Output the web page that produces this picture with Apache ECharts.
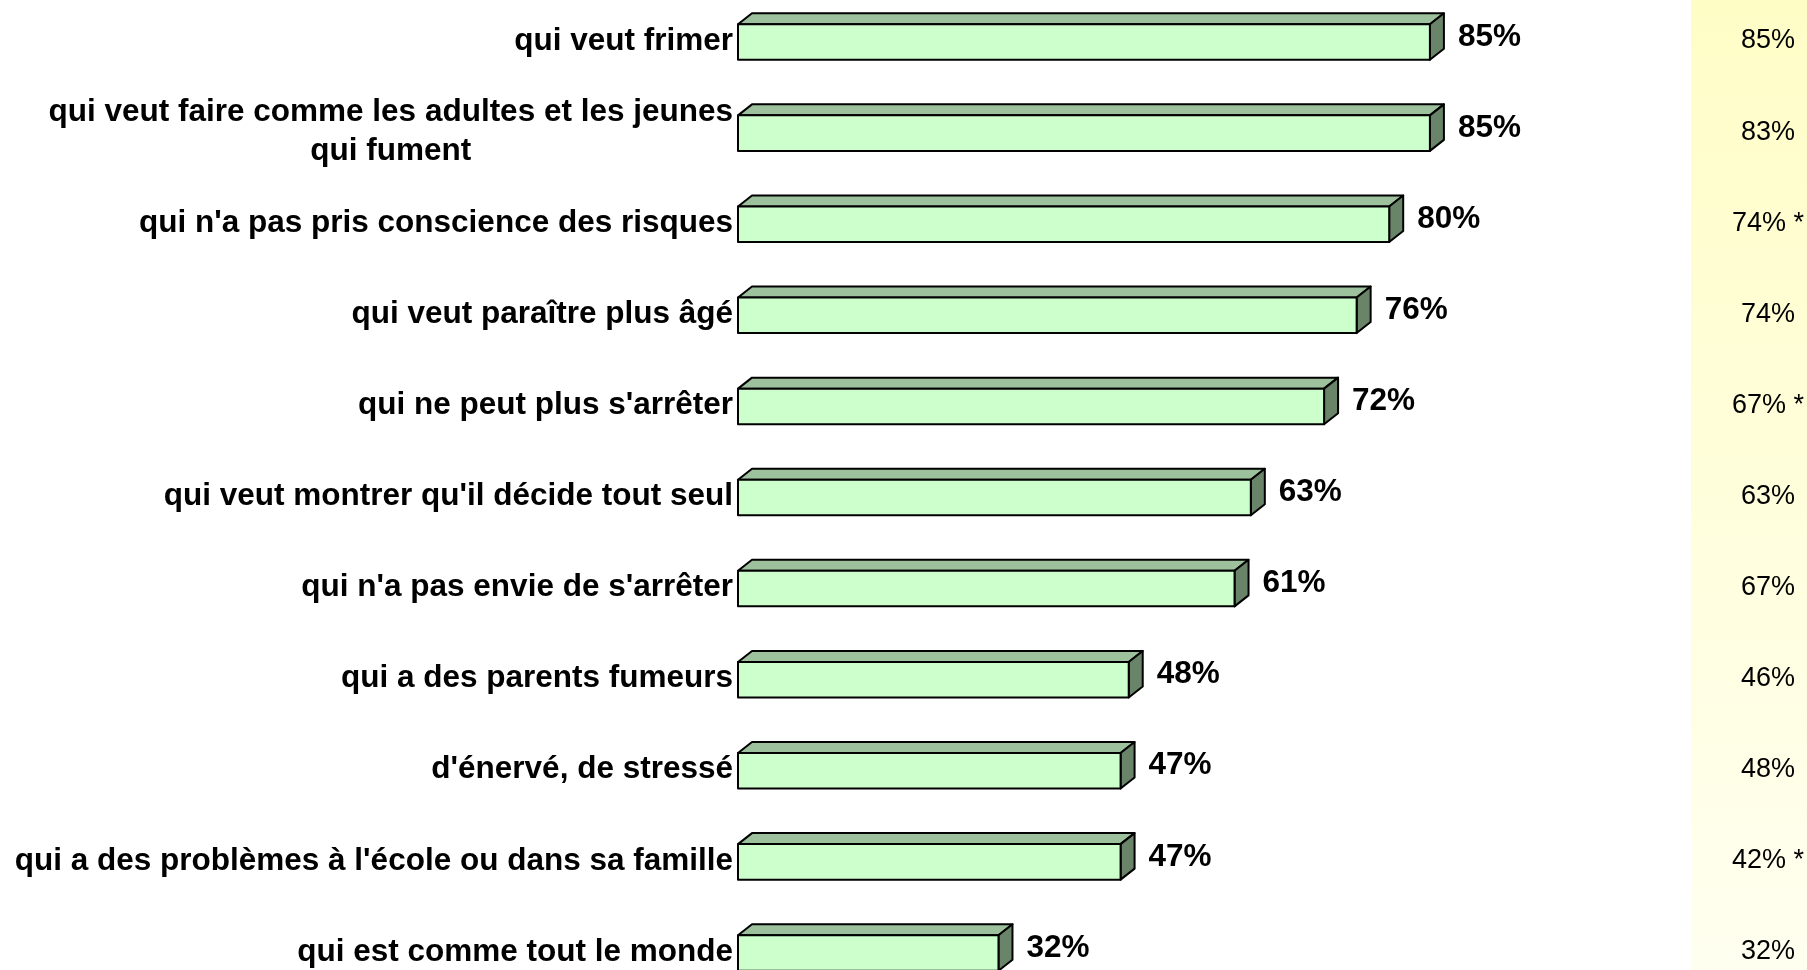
<!DOCTYPE html>
<html>
<head>
<meta charset="utf-8">
<title>Raisons de fumer</title>
<script src="https://cdn.jsdelivr.net/npm/echarts@6/dist/echarts.min.js"></script>
<style>
  html, body { margin: 0; padding: 0; background: #fff; }
  #chart { width: 1807px; height: 970px; }
</style>
</head>
<body>
<div id="chart"></div>
<script>
// catégories (de haut en bas)
const categories = [
    "qui veut frimer",
    "qui veut faire comme les adultes et les jeunes\nqui fument",
    "qui n'a pas pris conscience des risques",
    "qui veut paraître plus âgé",
    "qui ne peut plus s'arrêter",
    "qui veut montrer qu'il décide tout seul",
    "qui n'a pas envie de s'arrêter",
    "qui a des parents fumeurs",
    "d'énervé, de stressé",
    "qui a des problèmes à l'école ou dans sa famille",
    "qui est comme tout le monde"
];
// valeurs des barres (%)
const values = [85, 85, 80, 76, 72, 63, 61, 48, 47, 47, 32];
// colonne de comparaison (%), * = écart significatif
const compareValues = [85, 83, 74, 74, 67, 63, 67, 46, 48, 42, 32];
const significant = [false, false, true, false, true, false, false, false, false, true, false];

const compareLabels = compareValues.map((v, i) => v + '%' + (significant[i] ? ' *' : ''));

const FONT = 'Liberation Sans, Arial, sans-serif';

function renderBar3d(params, api) {
    const v = api.value(0);
    const cat = api.value(1);
    const base = api.coord([0, cat]);
    const end = api.coord([v, cat]);
    const band = api.size([0, 1])[1];
    const h = band * 0.39;
    const dx = 14, dy = 11;
    const x0 = base[0], x1 = end[0];
    const yt = base[1] - h / 2 + 1, yb = base[1] + h / 2 + 1;
    const line = { stroke: '#000', lineWidth: 2, lineJoin: 'round' };
    return {
        type: 'group',
        children: [
            {
                type: 'polygon',
                shape: { points: [[x0, yt], [x0 + dx, yt - dy], [x1 + dx, yt - dy], [x1, yt]] },
                style: Object.assign({ fill: '#9DC19D' }, line)
            },
            {
                type: 'polygon',
                shape: { points: [[x1, yt], [x1 + dx, yt - dy], [x1 + dx, yb - dy], [x1, yb]] },
                style: Object.assign({ fill: '#698469' }, line)
            },
            {
                type: 'rect',
                shape: { x: x0, y: yt, width: x1 - x0, height: h },
                style: Object.assign({ fill: '#CCFFCC' }, line)
            },
            {
                type: 'text',
                style: {
                    text: v + '%',
                    x: x1 + dx + 14,
                    y: base[1] - 4,
                    fill: '#000',
                    fontSize: 31.5,
                    fontWeight: 'bold',
                    fontFamily: FONT,
                    align: 'left',
                    verticalAlign: 'middle'
                }
            }
        ]
    };
}

const chart = echarts.init(document.getElementById('chart'));

const option = {
    backgroundColor: '#fff',
    animation: false,
    graphic: [{
        type: 'rect',
        z: -10,
        shape: { x: 1691, y: 0, width: 116, height: 970 },
        style: {
            fill: new echarts.graphic.LinearGradient(0, 0, 0, 1, [
                { offset: 0, color: '#FFFDC6' },
                { offset: 1, color: '#FFFFF0' }
            ])
        }
    }],
    grid: {
        left: 738,
        top: -4.5,
        width: 814,
        height: 1002,
        outerBoundsMode: 'none'
    },
    xAxis: {
        type: 'value',
        min: 0,
        max: 100,
        show: false
    },
    yAxis: [
        {
            type: 'category',
            data: categories,
            inverse: true,
            axisLine: { show: false },
            axisTick: { show: false },
            axisLabel: {
                margin: 5,
                color: '#000',
                fontSize: 31.5,
                fontWeight: 'bold',
                fontFamily: FONT,
                lineHeight: 39,
                formatter: function (val) {
                    const lines = val.split('\n');
                    if (lines.length === 1) return val;
                    return lines[0] + '\n{c|' + lines.slice(1).join('\n') + '}';
                },
                rich: {
                    c: {
                        align: 'center',
                        color: '#000',
                        fontSize: 31.5,
                        fontWeight: 'bold',
                        fontFamily: FONT,
                        lineHeight: 39
                    }
                }
            }
        },
        {
            type: 'category',
            data: compareLabels,
            inverse: true,
            position: 'right',
            axisLine: { show: false },
            axisTick: { show: false },
            axisLabel: {
                margin: 216,
                align: 'center',
                color: '#000',
                fontSize: 27,
                fontFamily: FONT
            }
        }
    ],
    series: [{
        type: 'custom',
        renderItem: renderBar3d,
        encode: { x: 0, y: 1 },
        data: values.map((v, i) => [v, i])
    }]
};

chart.setOption(option);
</script>
</body>
</html>
